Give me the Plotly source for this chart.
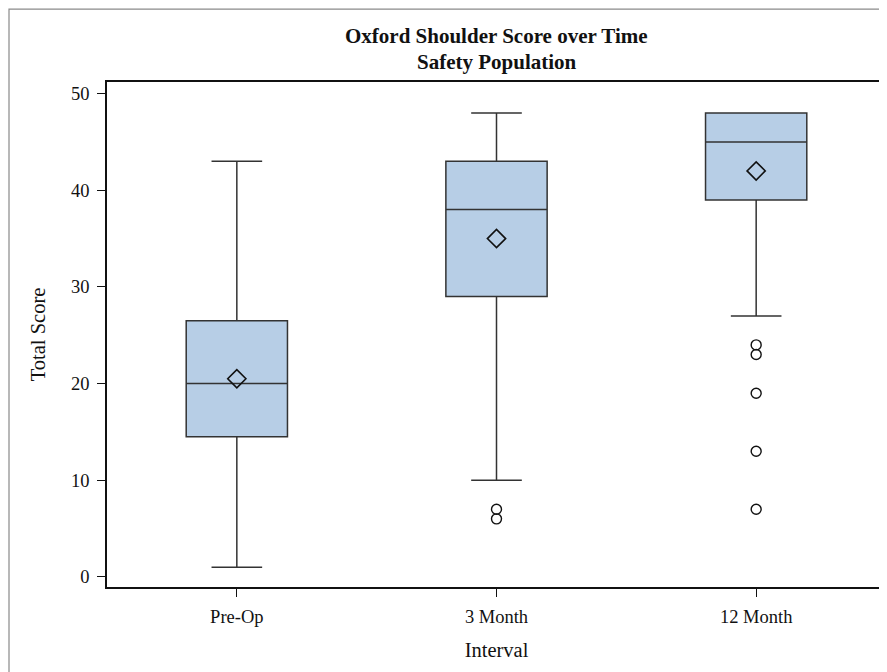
import plotly.graph_objects as go

categories = ["Pre-Op", "3 Month", "12 Month"]
q1_values = [14.5, 29, 39]
median_values = [20, 38, 45]
q3_values = [26.5, 43, 48]
lower_whisker = [1, 10, 27]
upper_whisker = [43, 48, 48]
mean_values = [20.5, 35, 42]
outlier_categories = ["3 Month", "3 Month", "12 Month", "12 Month", "12 Month", "12 Month", "12 Month"]
outlier_values = [7, 6, 24, 23, 19, 13, 7]
y_ticks = [0, 10, 20, 30, 40, 50]
title_lines = ["Oxford Shoulder Score over Time", "Safety Population"]

FONT = "Liberation Serif, Times New Roman, serif"
LINE = "#333333"
FILL = "#B7CEE6"
TXT = "#111111"

fig = go.Figure()
fig.add_trace(go.Box(
    x=categories, q1=q1_values, median=median_values, q3=q3_values,
    lowerfence=lower_whisker, upperfence=upper_whisker,
    width=0.39, whiskerwidth=0.5, boxpoints=False,
    fillcolor=FILL, line=dict(color=LINE, width=1.5),
    hoverinfo="skip", showlegend=False,
))
fig.add_trace(go.Scatter(
    x=categories, y=mean_values, mode="markers",
    marker=dict(symbol="diamond-open", size=14, color=TXT, line=dict(width=1.6)),
    hoverinfo="skip", showlegend=False,
))
fig.add_trace(go.Scatter(
    x=outlier_categories, y=outlier_values, mode="markers",
    marker=dict(symbol="circle-open", size=10, color=TXT, line=dict(width=1.4)),
    hoverinfo="skip", showlegend=False,
))

fig.add_shape(type="rect", xref="paper", yref="paper",
              x0=-0.1258, x1=1.5, y0=-0.6, y1=1.1445,
              line=dict(color="#8a8a8a", width=1.2), layer="below")

for text, ypos in zip(title_lines, [1.0916, 1.0395]):
    fig.add_annotation(text=f"<b>{text}</b>", xref="paper", yref="paper",
                       x=0.5, y=ypos, xanchor="center", yanchor="middle",
                       showarrow=False, font=dict(family=FONT, size=21, color=TXT))

# page body has an 8px default margin, so the figure is 8px smaller than the window
fig.update_layout(
    width=879, height=664,
    margin=dict(l=99, r=1, t=74, b=85, autoexpand=False),
    paper_bgcolor="white", plot_bgcolor="white",
    font=dict(family=FONT, color=TXT),
    xaxis=dict(
        type="category", categoryorder="array", categoryarray=categories,
        range=[-0.5, 2.5],
        showgrid=False, zeroline=False,
        showline=True, linecolor=TXT, linewidth=1.5, mirror=True,
        ticks="outside", ticklen=8, tickwidth=1.2, tickcolor=TXT,
        tickfont=dict(family=FONT, size=18.5, color=TXT),
        ticklabelstandoff=4,
        title=dict(text="Interval", font=dict(family=FONT, size=20.5, color=TXT), standoff=17),
    ),
    yaxis=dict(
        range=[-1.05, 51.2],
        tickvals=y_ticks,
        showgrid=False, zeroline=False,
        showline=True, linecolor=TXT, linewidth=1.5, mirror=True,
        ticks="outside", ticklen=8, tickwidth=1.2, tickcolor=TXT,
        tickfont=dict(family=FONT, size=18.5, color=TXT),
        ticklabelstandoff=4,
        title=dict(text="Total Score", font=dict(family=FONT, size=20.5, color=TXT), standoff=20),
    ),
)

fig.write_html("out.html")
